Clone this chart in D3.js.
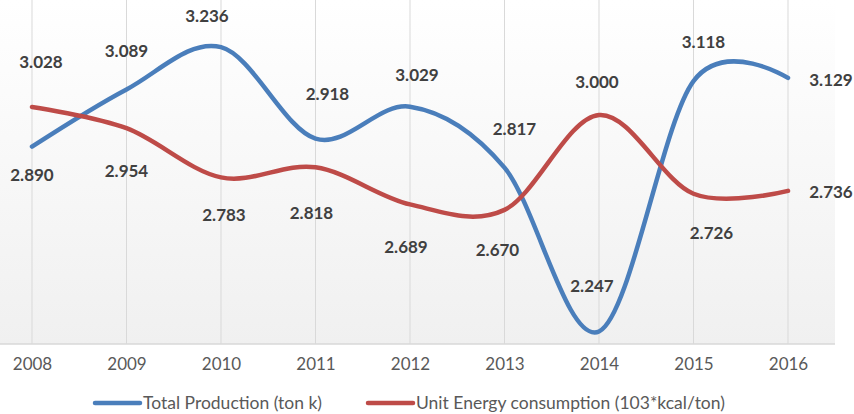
<!DOCTYPE html>
<html>
<head>
<meta charset="utf-8">
<script src="https://cdn.jsdelivr.net/npm/d3@7"></script>
<style>
  body { margin: 0; background: #fff; }
  text { font-family: Lato, "Open Sans", sans-serif; }
</style>
</head>
<body>
<div id="chart"></div>
<script>
var years = ["2008", "2009", "2010", "2011", "2012", "2013", "2014", "2015", "2016"];
var totalProduction = [2.890, 3.089, 3.236, 2.918, 3.029, 2.817, 2.247, 3.118, 3.129];
var unitEnergy = [3.028, 2.954, 2.783, 2.818, 2.689, 2.670, 3.000, 2.726, 2.736];
var seriesNames = ["Total Production (ton k)", "Unit Energy consumption (103*kcal/ton)"];

// label offsets from the point (layout only)
var prodLabelOffset = [[0, 28], [0, -39], [-14, -31], [12, -45], [7, -32], [10, -39], [-7, -46], [10, -39], [43, 2]];
var energyLabelOffset = [[9, -45], [0, 43], [3, 37], [-4, 46], [-4, 42], [-7, 40], [-2, -33], [18, 39], [43, 1]];

var W = 854, H = 414;
var svg = d3.select("#chart").append("svg")
    .attr("width", W)
    .attr("height", H);

var plotLeft = 0, plotRight = 835, plotTop = 0, plotBottom = 344;

var defs = svg.append("defs");
var grad = defs.append("linearGradient")
    .attr("id", "bg")
    .attr("x1", 0).attr("y1", 0).attr("x2", 0).attr("y2", 1);
grad.append("stop").attr("offset", "0%").attr("stop-color", "#ffffff");
grad.append("stop").attr("offset", "100%").attr("stop-color", "#f0f0f0");

svg.append("rect")
    .attr("x", plotLeft).attr("y", plotTop)
    .attr("width", plotRight - plotLeft)
    .attr("height", plotBottom - plotTop)
    .attr("fill", "url(#bg)");

var x = d3.scalePoint()
    .domain(years)
    .range([32, 788]);

var y = d3.scaleLinear()
    .domain([2.2, 3.4])
    .range([345, 0]);

// vertical gridlines
svg.append("g")
    .selectAll("line")
    .data(years)
    .enter()
    .append("line")
    .attr("x1", function(d) { return x(d); })
    .attr("x2", function(d) { return x(d); })
    .attr("y1", plotTop)
    .attr("y2", plotBottom)
    .attr("stroke", "#d9d9d9")
    .attr("stroke-width", 1);

// x axis
var xAxis = d3.axisBottom(x).tickSize(0).tickPadding(14);
var gx = svg.append("g")
    .attr("class", "x-axis")
    .attr("transform", "translate(0," + plotBottom + ")")
    .call(xAxis);
gx.select(".domain").remove();
gx.selectAll("text")
    .attr("font-size", "17px")
    .attr("fill", "#595959")
    .style("font-family", "Lato, sans-serif");

svg.append("line")
    .attr("x1", plotLeft).attr("x2", plotRight)
    .attr("y1", plotBottom).attr("y2", plotBottom)
    .attr("stroke", "#d9d9d9")
    .attr("stroke-width", 1.5);

var line = d3.line()
    .curve(d3.curveCatmullRom.alpha(0))
    .x(function(d, i) { return x(years[i]); })
    .y(function(d) { return y(d); });

var series = [
    { values: totalProduction, color: "#4a7ebb", offsets: prodLabelOffset },
    { values: unitEnergy, color: "#be4b48", offsets: energyLabelOffset }
];

series.forEach(function(s) {
    svg.append("path")
        .datum(s.values)
        .attr("d", line)
        .attr("fill", "none")
        .attr("stroke", s.color)
        .attr("stroke-width", 4.5)
        .attr("stroke-linecap", "round");
});

series.forEach(function(s) {
    svg.append("g")
        .selectAll("text")
        .data(s.values)
        .enter()
        .append("text")
        .attr("x", function(d, i) { return x(years[i]) + s.offsets[i][0]; })
        .attr("y", function(d, i) { return y(d) + s.offsets[i][1]; })
        .attr("dy", "0.36em")
        .attr("text-anchor", "middle")
        .attr("font-size", "17px")
        .attr("font-weight", "bold")
        .attr("fill", "#404040")
        .text(function(d) { return d3.format(".3f")(d); });
});

// legend
var legend = svg.append("g").attr("transform", "translate(0,403)");
var legendX = [95, 368];
series.forEach(function(s, i) {
    legend.append("line")
        .attr("x1", legendX[i]).attr("x2", legendX[i] + 45)
        .attr("y1", 0).attr("y2", 0)
        .attr("stroke", s.color)
        .attr("stroke-width", 4.5)
        .attr("stroke-linecap", "round");
    legend.append("text")
        .attr("x", legendX[i] + 48)
        .attr("y", 0)
        .attr("dy", "0.36em")
        .attr("font-size", "17.5px")
        .attr("fill", "#595959")
        .text(seriesNames[i]);
});
</script>
</body>
</html>
